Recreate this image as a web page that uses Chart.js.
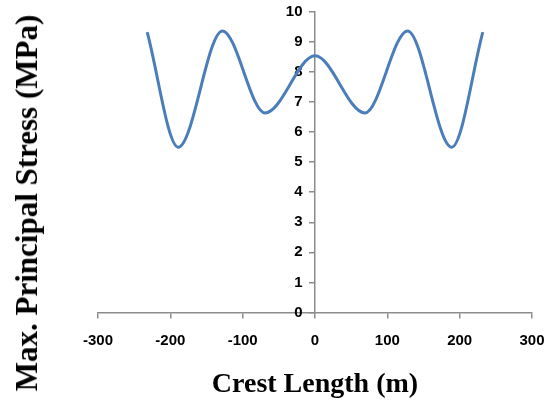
<!DOCTYPE html>
<html>
<head>
<meta charset="utf-8">
<script src="https://cdn.jsdelivr.net/npm/chart.js@4"></script>
<style>
  html, body { margin: 0; padding: 0; background: #fff; }
  #wrap { position: relative; width: 554px; height: 405px; }
  #yTitle {
    position: absolute; left: 27px; top: 203px;
    transform: translate(-50%, -50%) rotate(-90deg);
    white-space: nowrap;
    font: bold 31px "Liberation Serif", "DejaVu Serif", serif;
    color: #000;
  }
</style>
</head>
<body>
<div id="wrap">
  <canvas id="c" width="554" height="405"></canvas>
  <div id="yTitle">Max. Principal Stress (MPa)</div>
</div>
<script>
// crest position (m) and max principal stress (MPa)
const crestLength = [-232, -189, -128, -69, 0, 69, 128, 189, 232];
const stress      = [9.33, 5.5, 9.37, 6.64, 8.54, 6.64, 9.37, 5.5, 9.33];

const xTicks = [-300, -200, -100, 0, 100, 200, 300];
const yTicks = [0, 1, 2, 3, 4, 5, 6, 7, 8, 9, 10];

const points = crestLength.map((x, i) => ({ x, y: stress[i] }));
const axisGray = '#8c8c8c';
const tickFont = { family: '"Liberation Sans Narrow", "Liberation Sans", Arial, sans-serif', size: 15, weight: 'bold' };

new Chart(document.getElementById('c'), {
    type: 'line',
    data: {
        datasets: [{
            data: points,
            borderColor: '#4A7EBB',
            borderWidth: 3,
            pointRadius: 0,
            cubicInterpolationMode: 'monotone',
            fill: false
        }]
    },
    options: {
        responsive: false,
        animation: false,
        layout: { padding: { left: 98, right: 22, top: 3, bottom: 3 } },
        plugins: {
            legend: { display: false },
            tooltip: { enabled: false },
            title: {
                display: true,
                position: 'bottom',
                text: 'Crest Length (m)',
                color: '#000',
                font: { family: '"Liberation Serif", "DejaVu Serif", serif', size: 28, weight: 'bold' },
                padding: { top: 6, bottom: 0 }
            }
        },
        scales: {
            x: {
                type: 'linear',
                min: -300, max: 300,
                afterBuildTicks: (axis) => { axis.ticks = xTicks.map(v => ({ value: v })); },
                // keep the plot edges where the figure has them (98 .. 532)
                afterFit: (axis) => { axis.paddingLeft = 0; axis.paddingRight = 0; },
                border: { display: true, color: axisGray, width: 1.5 },
                grid: { display: true, drawOnChartArea: false, drawTicks: true, tickLength: 6, color: axisGray, lineWidth: 1.5 },
                ticks: { color: '#000', font: tickFont, padding: 13, maxRotation: 0 }
            },
            y: {
                type: 'linear',
                position: { x: 0 },
                min: 0, max: 10,
                afterBuildTicks: (axis) => { axis.ticks = yTicks.map(v => ({ value: v })); },
                afterFit: (axis) => { axis.width = 0; },
                border: { display: true, color: axisGray, width: 1.5 },
                grid: { display: true, drawOnChartArea: false, drawTicks: true, tickLength: 5, color: axisGray, lineWidth: 1.5 },
                // labels are right-aligned on the axis line here, trailing spaces keep them clear of it
                ticks: { color: '#000', font: tickFont, callback: (v) => v + '   ' }
            }
        }
    }
});
</script>
</body>
</html>
